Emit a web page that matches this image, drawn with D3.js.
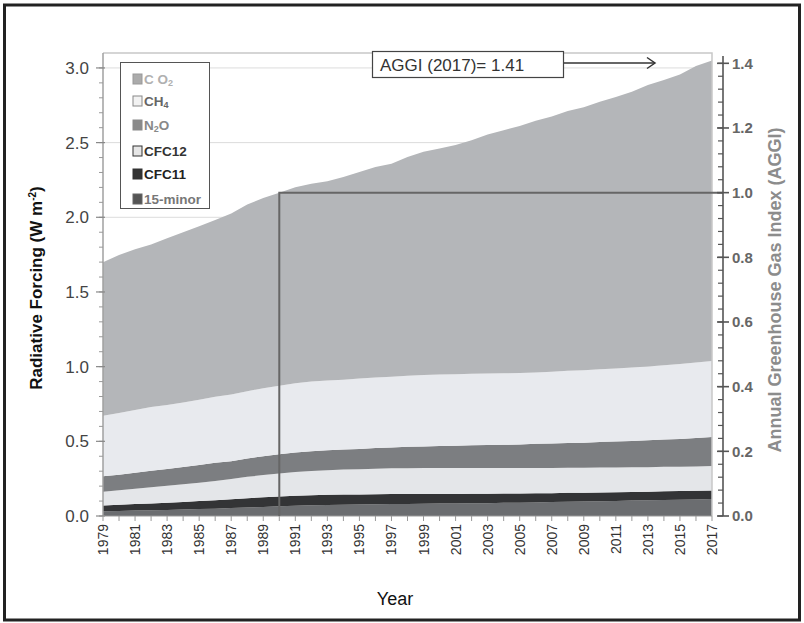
<!DOCTYPE html>
<html lang="en">
<head>
    <meta charset="UTF-8">
    <title>AGGI radiative forcing</title>
    <style>
        body { margin: 0; background: #fff; }
        svg { display: block; font-family: Arial, "Liberation Sans", sans-serif; }
    </style>
</head>
<body>
    <div id="chart"></div>
    <script src="https://d3js.org/d3.v7.min.js"></script>
    <script>
        // 数据 (W m-2), 1979 - 2017
        const years = d3.range(1979, 2018);
        const co2 = [1.027, 1.058, 1.077, 1.089, 1.115, 1.140, 1.162, 1.184, 1.211, 1.250, 1.274, 1.293, 1.313, 1.324, 1.334, 1.356, 1.383, 1.410, 1.426, 1.465, 1.495, 1.513, 1.535, 1.564, 1.600, 1.627, 1.655, 1.685, 1.710, 1.739, 1.760, 1.791, 1.818, 1.846, 1.884, 1.909, 1.938, 1.985, 2.012];
        const ch4 = [0.406, 0.413, 0.420, 0.426, 0.429, 0.432, 0.437, 0.442, 0.447, 0.451, 0.455, 0.459, 0.463, 0.467, 0.467, 0.468, 0.471, 0.472, 0.473, 0.476, 0.478, 0.478, 0.478, 0.478, 0.479, 0.479, 0.478, 0.478, 0.480, 0.483, 0.485, 0.487, 0.489, 0.491, 0.494, 0.498, 0.502, 0.506, 0.509];
        const n2o = [0.104, 0.104, 0.107, 0.111, 0.113, 0.116, 0.118, 0.122, 0.120, 0.123, 0.126, 0.129, 0.131, 0.133, 0.134, 0.134, 0.136, 0.138, 0.140, 0.143, 0.145, 0.148, 0.150, 0.152, 0.154, 0.156, 0.158, 0.161, 0.163, 0.166, 0.168, 0.171, 0.174, 0.177, 0.180, 0.183, 0.186, 0.190, 0.195];
        const cfc12 = [0.092, 0.097, 0.102, 0.108, 0.113, 0.118, 0.123, 0.129, 0.135, 0.143, 0.149, 0.154, 0.158, 0.162, 0.164, 0.167, 0.169, 0.171, 0.172, 0.173, 0.173, 0.173, 0.173, 0.173, 0.172, 0.171, 0.171, 0.170, 0.169, 0.168, 0.167, 0.166, 0.165, 0.165, 0.164, 0.164, 0.163, 0.163, 0.163];
        const cfc11 = [0.039, 0.042, 0.044, 0.046, 0.048, 0.050, 0.053, 0.056, 0.059, 0.062, 0.064, 0.065, 0.067, 0.067, 0.068, 0.068, 0.067, 0.067, 0.067, 0.066, 0.066, 0.065, 0.064, 0.064, 0.063, 0.062, 0.061, 0.061, 0.060, 0.060, 0.059, 0.059, 0.058, 0.058, 0.058, 0.058, 0.058, 0.058, 0.058];
        const minor15 = [0.031, 0.034, 0.036, 0.038, 0.041, 0.044, 0.047, 0.049, 0.053, 0.057, 0.061, 0.065, 0.069, 0.072, 0.074, 0.076, 0.077, 0.079, 0.080, 0.081, 0.082, 0.083, 0.084, 0.085, 0.086, 0.088, 0.089, 0.091, 0.093, 0.095, 0.097, 0.099, 0.101, 0.103, 0.105, 0.107, 0.109, 0.111, 0.113];

        const leftTicks = [0, 0.5, 1.0, 1.5, 2.0, 2.5, 3.0];
        const rightTicks = [0, 0.2, 0.4, 0.6, 0.8, 1.0, 1.2, 1.4];
        const baseYear = 1990;
        const lastYear = 2017;

        // 堆叠顺序：自下而上
        const keys = ["minor", "cfc11", "cfc12", "n2o", "ch4", "co2"];
        const colors = {
            minor: "#6b6d70", cfc11: "#333436", cfc12: "#e4e6e9",
            n2o: "#7c7e81", ch4: "#e8eaee", co2: "#b4b6b9"
        };

        const rows = years.map((y, i) => ({
            year: y, co2: co2[i], ch4: ch4[i], n2o: n2o[i],
            cfc12: cfc12[i], cfc11: cfc11[i], minor: minor15[i]
        }));
        const totals = rows.map(d => keys.reduce((s, k) => s + d[k], 0));
        const total1990 = totals[years.indexOf(baseYear)];
        const aggiLast = totals[years.indexOf(lastYear)] / total1990;

        const width = 804, height = 623;
        const svg = d3.select("#chart").append("svg")
            .attr("width", width)
            .attr("height", height);

        // 外框
        svg.append("rect")
            .attr("x", 4.5).attr("y", 5)
            .attr("width", 795).attr("height", 615)
            .attr("fill", "none").attr("stroke", "#222").attr("stroke-width", 3);

        const x = d3.scaleLinear().domain([1979, 2017]).range([103, 712]);
        const y = d3.scaleLinear().domain([0, 3.1]).range([516, 53]);
        const y2 = d3.scaleLinear().domain([0, 3.1 / total1990]).range([516, 53]);

        // 网格线
        svg.append("g").selectAll("line").data(leftTicks.slice(1)).join("line")
            .attr("x1", x(1979)).attr("x2", x(2017))
            .attr("y1", d => y(d)).attr("y2", d => y(d))
            .attr("stroke", "#dcdcdc").attr("stroke-width", 1);

        // 面积图
        const series = d3.stack().keys(keys)(rows);
        const area = d3.area()
            .x(d => x(d.data.year))
            .y0(d => y(d[0]))
            .y1(d => y(d[1]));

        svg.append("g").selectAll("path").data(series).join("path")
            .attr("d", area)
            .attr("fill", d => colors[d.key]);

        // 绘图区边框 (上、右)
        svg.append("path")
            .attr("d", `M${x(1979)},${y(3.1)}H${x(2017)}V${y(0)}`)
            .attr("fill", "none").attr("stroke", "#c8c8c8").attr("stroke-width", 1.5);

        // 左轴
        const leftAxis = svg.append("g").attr("transform", `translate(${x(1979)},0)`);
        leftAxis.append("line")
            .attr("y1", y(0)).attr("y2", y(3.1))
            .attr("stroke", "#a0a0a0").attr("stroke-width", 1.5);
        leftAxis.selectAll(".minor").data(d3.range(0, 31).map(i => i / 10)).join("line")
            .attr("x1", -4).attr("x2", 0)
            .attr("y1", d => y(d)).attr("y2", d => y(d))
            .attr("stroke", "#999");
        leftAxis.selectAll(".major").data(leftTicks).join("line")
            .attr("x1", -7).attr("x2", 2)
            .attr("y1", d => y(d)).attr("y2", d => y(d))
            .attr("stroke", "#888").attr("stroke-width", 1.2);
        leftAxis.selectAll("text").data(leftTicks).join("text")
            .attr("x", -14).attr("y", d => y(d))
            .attr("dy", "0.36em")
            .attr("text-anchor", "end")
            .attr("font-size", 17).attr("fill", "#444")
            .text(d => d.toFixed(1));

        svg.append("text")
            .attr("transform", "translate(42,288) rotate(-90)")
            .attr("text-anchor", "middle")
            .attr("font-size", 17).attr("font-weight", "bold").attr("fill", "#111")
            .call(t => {
                t.append("tspan").text("Radiative Forcing (W m");
                t.append("tspan").attr("dy", -6).attr("font-size", 10).text("-2");
                t.append("tspan").attr("dy", 6).text(")");
            });

        // 下轴
        const bottom = svg.append("g");
        bottom.append("line")
            .attr("x1", x(1979)).attr("x2", x(2017))
            .attr("y1", y(0)).attr("y2", y(0))
            .attr("stroke", "#999");
        bottom.selectAll("line.t").data(years).join("line")
            .attr("class", "t")
            .attr("x1", d => x(d)).attr("x2", d => x(d))
            .attr("y1", y(0)).attr("y2", y(0) + 5)
            .attr("stroke", "#999");
        bottom.selectAll("text").data(years.filter((d, i) => i % 2 === 0)).join("text")
            .attr("transform", d => `translate(${x(d) + 5},524) rotate(-90)`)
            .attr("text-anchor", "end")
            .attr("font-size", 14).attr("fill", "#333")
            .text(d => d);

        svg.append("text")
            .attr("x", 395).attr("y", 605)
            .attr("text-anchor", "middle")
            .attr("font-size", 18).attr("fill", "#111")
            .text("Year");

        // AGGI = 1.0 参考线
        svg.append("path")
            .attr("d", `M${x(baseYear)},${y(0)}V${y2(1)}H723`)
            .attr("fill", "none").attr("stroke", "#666").attr("stroke-width", 2);

        // 右轴 (AGGI)
        const ax = 723;
        const rightAxis = svg.append("g").attr("transform", `translate(${ax},0)`);
        rightAxis.append("line")
            .attr("y1", y2(0)).attr("y2", 56)
            .attr("stroke", "#555").attr("stroke-width", 1.6);
        rightAxis.selectAll(".minor").data(d3.range(0, 36).map(i => i * 0.04)).join("line")
            .attr("x1", -5).attr("x2", 0)
            .attr("y1", d => y2(d)).attr("y2", d => y2(d))
            .attr("stroke", "#555").attr("stroke-width", 1.2);
        rightAxis.selectAll(".major").data(rightTicks).join("line")
            .attr("x1", -6).attr("x2", 6)
            .attr("y1", d => y2(d)).attr("y2", d => y2(d))
            .attr("stroke", "#555").attr("stroke-width", 1.6);
        rightAxis.selectAll("text").data(rightTicks).join("text")
            .attr("x", 9).attr("y", d => y2(d))
            .attr("dy", "0.36em")
            .attr("font-size", 15).attr("font-weight", "bold").attr("fill", "#666")
            .text(d => d.toFixed(1));

        svg.append("text")
            .attr("transform", "translate(781,290) rotate(-90)")
            .attr("text-anchor", "middle")
            .attr("font-size", 18).attr("font-weight", "bold").attr("fill", "#8c8c8c")
            .text("Annual Greenhouse Gas Index (AGGI)");

        // 注释框
        svg.append("rect")
            .attr("x", 372.5).attr("y", 51.5).attr("width", 191).attr("height", 26)
            .attr("fill", "#fff").attr("stroke", "#444").attr("stroke-width", 1.2);
        svg.append("text")
            .attr("x", 380).attr("y", 71)
            .attr("font-size", 17).attr("fill", "#333")
            .text(`AGGI (${lastYear})= ${aggiLast.toFixed(2)}`);
        svg.append("line")
            .attr("x1", 564).attr("x2", 655).attr("y1", 63).attr("y2", 63)
            .attr("stroke", "#333").attr("stroke-width", 1.5);
        svg.append("path")
            .attr("d", "M647,57.5L655,63L647,68.5")
            .attr("fill", "none").attr("stroke", "#333").attr("stroke-width", 1.5);

        // 图例
        const legendItems = [
            { key: "co2", name: "C O", sub: "2", text: "#b0b0b0", fill: "#ababab", stroke: "#999" },
            { key: "ch4", name: "CH", sub: "4", text: "#666", fill: "#f2f2f2", stroke: "#888" },
            { key: "n2o", name: "N", sub: "2", rest: "O", text: "#888", fill: "#8a8a8a", stroke: "#8a8a8a" },
            { key: "cfc12", name: "CFC12", text: "#333", fill: "#e6e6e6", stroke: "#333" },
            { key: "cfc11", name: "CFC11", text: "#222", fill: "#333", stroke: "#333" },
            { key: "minor", name: "15-minor", text: "#777", fill: "#555", stroke: "#666" }
        ];
        const legendY = [84, 106, 130, 156, 179, 204];

        const legend = svg.append("g");
        legend.append("rect")
            .attr("x", 120.5).attr("y", 62.5).attr("width", 89).attr("height", 146)
            .attr("fill", "#fff").attr("stroke", "#555").attr("stroke-width", 1);

        const li = legend.selectAll("g").data(legendItems).join("g")
            .attr("transform", (d, i) => `translate(0,${legendY[i]})`);
        li.append("rect")
            .attr("x", 133).attr("y", -10).attr("width", 9).attr("height", 10)
            .attr("fill", d => d.fill).attr("stroke", d => d.stroke);
        li.append("text")
            .attr("x", 144).attr("y", 0)
            .attr("font-size", 13.5).attr("font-weight", "bold")
            .attr("fill", d => d.text)
            .each(function (d) {
                const t = d3.select(this);
                t.append("tspan").text(d.name);
                if (d.sub) {
                    t.append("tspan").attr("font-size", 9).attr("dy", 2).text(d.sub);
                    if (d.rest) t.append("tspan").attr("dy", -2).text(d.rest);
                }
            });
    </script>
</body>
</html>
